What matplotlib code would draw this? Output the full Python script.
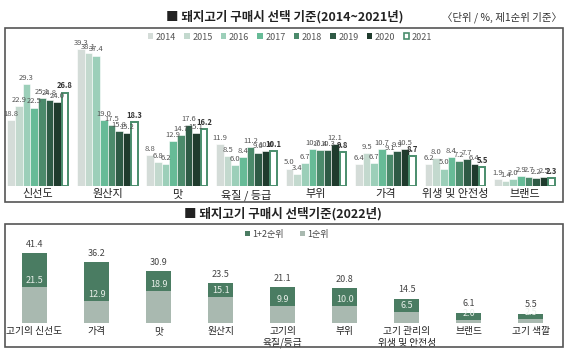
import matplotlib
matplotlib.use("Agg")
import matplotlib.pyplot as plt
from matplotlib.patches import Rectangle, Patch
import numpy as np

plt.rcParams['font.family'] = ['Noto Sans CJK KR', 'DejaVu Sans']

# ---- data: top panel (2014~2021, 1순위) ----
categories_top = ['신선도', '원산지', '맛', '육질 / 등급', '부위', '가격', '위생 및 안전성', '브랜드']
years = ['2014', '2015', '2016', '2017', '2018', '2019', '2020', '2021']
v2014 = [18.8, 39.3, 8.8, 11.9, 5.0, 6.4, 6.2, 1.9]
v2015 = [22.9, 38.1, 6.8, 8.5, 3.4, 9.5, 8.0, 1.4]
v2016 = [29.3, 37.4, 6.2, 6.0, 6.7, 6.7, 5.0, 2.0]
v2017 = [22.5, 19.0, 12.9, 8.4, 10.7, 10.7, 8.4, 2.9]
v2018 = [25.1, 17.5, 14.7, 11.2, 10.4, 9.1, 7.2, 2.7]
v2019 = [24.8, 15.8, 17.6, 9.6, 10.3, 9.9, 7.7, 2.2]
v2020 = [24.0, 15.2, 15.1, 10.0, 12.1, 10.5, 6.4, 2.5]
v2021 = [26.8, 18.3, 16.2, 10.1, 9.8, 8.7, 5.5, 2.3]
series_top = [v2014, v2015, v2016, v2017, v2018, v2019, v2020, v2021]

# ---- data: bottom panel (2022) ----
categories_bot = ['고기의 신선도', '가격', '맛', '원산지', '고기의\n육질/등급', '부위',
                  '고기 관리의\n위생 및 안전성', '브랜드', '고기 색깔']
rank12 = [41.4, 36.2, 30.9, 23.5, 21.1, 20.8, 14.5, 6.1, 5.5]
rank1 = [21.5, 12.9, 18.9, 15.1, 9.9, 10.0, 6.5, 2.0, 2.5]

colors_top = ['#d4dcd8', '#c3d9ce', '#9ccfb9', '#67bb97', '#4b8a6b', '#2e5a45', '#1f3b2d', '#ffffff']
edge_2021 = '#4a8d6d'
dark_bot = '#4a7c62'
light_bot = '#a9b9b0'

W, H = 571, 357
fig = plt.figure(figsize=(W / 100, H / 100), dpi=100)
fig.patch.set_facecolor('white')

def fx(px):
    return px / W

def fy(py):
    return 1 - py / H

# frames
fig.patches.append(Rectangle((fx(5), fy(202)), fx(558), 174 / H, transform=fig.transFigure,
                             fill=False, edgecolor='#555555', linewidth=1.2, zorder=0))
fig.patches.append(Rectangle((fx(5), fy(347)), fx(558), 123 / H, transform=fig.transFigure,
                             fill=False, edgecolor='#555555', linewidth=1.2, zorder=0))

# titles
fig.text(fx(285), fy(17), '■ 돼지고기 구매시 선택 기준(2014~2021년)', ha='center', va='center',
         fontsize=9, fontweight='bold', color='#222222')
fig.text(fx(562), fy(17), '〈단위 / %, 제1순위 기준〉', ha='right', va='center',
         fontsize=7.5, color='#333333')
fig.text(fx(283), fy(214), '■ 돼지고기 구매시 선택기준(2022년)', ha='center', va='center',
         fontsize=9, fontweight='bold', color='#222222')

# ---- top axes ----
ax1 = fig.add_axes([fx(5), fy(186), fx(558), (186 - 28) / H])
ax1.set_xlim(-0.475, 7.55)
ax1.set_ylim(0, 45.3)
x = np.arange(len(categories_top))
n = len(years)
bw = 0.11
for i, (yr, vals) in enumerate(zip(years, series_top)):
    pos = x + (i - (n - 1) / 2) * bw
    if i == n - 1:
        ax1.bar(pos, vals, width=bw * 0.85, facecolor='white', edgecolor=edge_2021,
                linewidth=1.4, label=yr, zorder=3)
    else:
        ax1.bar(pos, vals, width=bw, color=colors_top[i], edgecolor='white',
                linewidth=0.4, label=yr, zorder=2)
    for p, v in zip(pos, vals):
        ax1.text(p, v + 0.6, f'{v:.1f}', ha='center', va='bottom', fontsize=5.5,
                 color='#333333' if i == n - 1 else '#555555',
                 fontweight='bold' if i == n - 1 else 'normal', zorder=4)
ax1.set_xticks(x)
ax1.set_xticklabels(categories_top, fontsize=8, color='#222222')
ax1.tick_params(axis='x', length=0, pad=2.5)
ax1.set_yticks([])
for s in ax1.spines.values():
    s.set_visible(False)
ax1.patch.set_alpha(0)

handles = []
for i, yr in enumerate(years):
    if i == n - 1:
        handles.append(Patch(facecolor='white', edgecolor=edge_2021, linewidth=1.2, label=yr))
    else:
        handles.append(Patch(facecolor=colors_top[i], label=yr))
fig.legend(handles=handles, loc='center', bbox_to_anchor=(fx(290), fy(37)), ncol=8,
           frameon=False, fontsize=6.5, handlelength=0.6, handleheight=0.6,
           handletextpad=0.3, columnspacing=0.9, labelcolor='#555555')

# ---- bottom axes ----
ax2 = fig.add_axes([fx(5), fy(323), fx(558), (323 - 224) / H])
ax2.set_xlim(-0.476, 8.52)
ax2.set_ylim(0, 58.6)
xb = np.arange(len(categories_bot))
bwb = 0.41
ax2.bar(xb, rank12, width=bwb, color=dark_bot, label='1+2순위', zorder=2)
ax2.bar(xb, rank1, width=bwb, color=light_bot, label='1순위', zorder=3)
for p, t, r in zip(xb, rank12, rank1):
    ax2.text(p, t + 2.5, f'{t:.1f}', ha='center', va='bottom', fontsize=6.5, color='#444444')
    ax2.text(p, r + 1.2, f'{r:.1f}', ha='center', va='bottom', fontsize=6.5,
             color='#e8efe9', zorder=4)
ax2.set_xticks(xb)
ax2.set_xticklabels(categories_bot, fontsize=7, color='#222222', linespacing=1.25)
ax2.tick_params(axis='x', length=0, pad=2)
ax2.set_yticks([])
for s in ax2.spines.values():
    s.set_visible(False)
ax2.patch.set_alpha(0)

fig.legend(handles=[Patch(facecolor=dark_bot, label='1+2순위'),
                    Patch(facecolor=light_bot, label='1순위')],
           loc='center', bbox_to_anchor=(fx(287), fy(234)), ncol=2, frameon=False,
           fontsize=6.5, handlelength=0.5, handleheight=0.5, handletextpad=0.3,
           columnspacing=1.8, labelcolor='#444444')

fig.savefig('out.png', dpi=100)
